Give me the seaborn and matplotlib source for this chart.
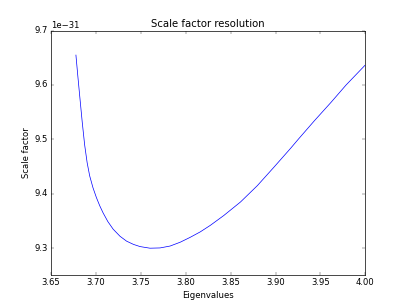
import matplotlib
matplotlib.use("Agg")
import matplotlib.pyplot as plt
from matplotlib.ticker import MultipleLocator
import seaborn as sns

# values (y in units of 1e-31)
eigenvalues = [3.6780, 3.6802, 3.6825, 3.6850, 3.6877, 3.6905, 3.6933, 3.6970,
               3.7008, 3.7045, 3.7082, 3.7135, 3.7194, 3.7270, 3.7343, 3.7420,
               3.7493, 3.7604, 3.7716, 3.7828, 3.7940, 3.8051, 3.8163, 3.8275,
               3.8424, 3.8611, 3.8798, 3.8983, 3.9170, 3.9252, 3.9431, 3.9617,
               3.9785, 4.0000]
scale_factor = [9.655, 9.615, 9.575, 9.532, 9.490, 9.457, 9.433, 9.411,
                9.393, 9.378, 9.365, 9.349, 9.335, 9.322, 9.313, 9.307,
                9.303, 9.300, 9.3005, 9.304, 9.311, 9.320, 9.330, 9.342,
                9.360, 9.385, 9.415, 9.449, 9.484, 9.500, 9.534, 9.568,
                9.600, 9.637]
scale_factor = [v * 1e-31 for v in scale_factor]

plt.style.use("classic")
fig, ax = plt.subplots(figsize=(8, 306 / 50.75), dpi=50.75)
fig.patch.set_facecolor("white")

sns.lineplot(x=eigenvalues, y=scale_factor, color="b", linewidth=1.0, ax=ax)

ax.set_xlim(3.65, 4.00)
ax.set_ylim(9.25e-31, 9.7e-31)
ax.yaxis.set_major_locator(MultipleLocator(1e-32))
ax.set_title("Scale factor resolution")
ax.set_xlabel("Eigenvalues")
ax.set_ylabel("Scale factor")

fig.savefig("out.png", dpi=50.75, facecolor="white")
